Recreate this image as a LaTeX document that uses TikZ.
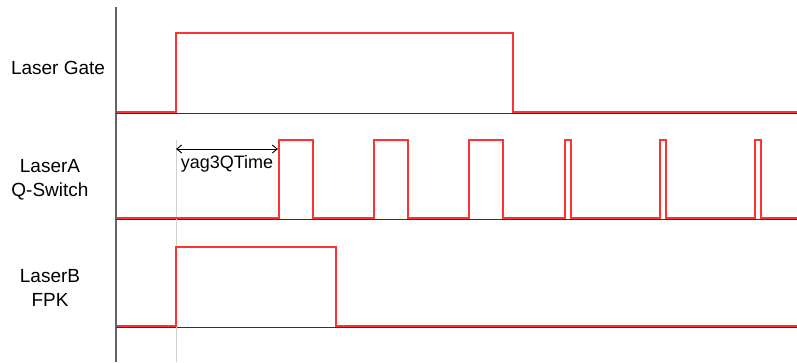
\documentclass[tikz,border=0pt]{standalone}
\usepackage{fontspec}
\setmainfont{Liberation Sans}
\usetikzlibrary{positioning,calc,arrows.meta}
\definecolor{sigred}{RGB}{255,50,50}
\definecolor{axisgray}{RGB}{100,100,100}
\tikzstyle{sig}=[draw=sigred, line width=1.5pt, line join=miter]
\tikzstyle{base}=[draw=black!80, line width=1.4pt]
\tikzstyle{lbl}=[align=center, inner sep=0pt, font=\fontsize{19}{24}\selectfont]

\begin{document}
\begin{tikzpicture}[x=1pt,y=-1pt]
	\useasboundingbox (0,0) rectangle (797,362);
	% axis and baselines
	\draw[axisgray, line width=1.5pt] (116,7) -- (116,362);
	\foreach \y in {113.6,219.6,327.6}
		\draw[base] (116,\y) -- (797,\y);
	% marker at the gate edge
	\draw[black!18, line width=0.8pt] (176,140) -- (176,362);
	% signals
	\draw[sig] (117,112) -- (176,112) -- (176,33) -- (513,33) -- (513,112) -- (797,112);
	\draw[sig] (117,218)
		foreach \a/\b in {279/313,374/408,469/503,565/571,660/666,755/761}
		{ -- (\a,218) -- (\a,140) -- (\b,140) -- (\b,218) } -- (797,218);
	\draw[sig] (117,326) -- (176,326) -- (176,247) -- (336,247) -- (336,326) -- (797,326);
	% labels
	\node[lbl] (gate) at (58,68) {Laser Gate};
	\node[lbl] (qsw) at (50,180) {LaserA\\Q-Switch};
	\node[lbl] (fpk) at (50,288) {LaserB\\FPK};
	% delay
	\coordinate (t0) at (176,149);
	\coordinate (t1) at (278,149);
	\draw[{Straight Barb[length=5pt,width=8pt]}-{Straight Barb[length=5pt,width=8pt]}, line width=0.9pt] (t0) -- (t1);
	\node[lbl, font=\fontsize{18}{22}\selectfont] (qtime) at (227,164) {yag3QTime};
\end{tikzpicture}
\end{document}
